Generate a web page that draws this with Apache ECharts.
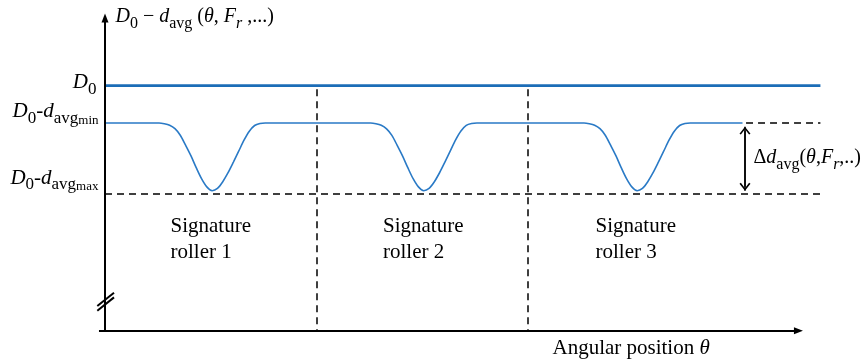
<!DOCTYPE html>
<html><head><meta charset="utf-8">
<script src="https://cdn.jsdelivr.net/npm/echarts@6/dist/echarts.min.js"></script>
<style>html,body{margin:0;padding:0;background:#fff}#c{width:864px;height:364px}</style>
</head><body><div id="c"></div>
<script>
// ---- data (angular position θ in degrees, signal in arbitrary units) ----
const thetaDeg = [0,
  30.5, 33.5, 36.5, 39.5, 42.5, 45.5, 48.5, 51.5, 54.5, 57.5, 60.5,
  63.5, 66.5, 69.5, 72.5, 75.5, 78.5, 81.5, 84.5, 87.5, 90.5,
  150, 153, 156, 159, 162, 165, 168, 171, 174, 177, 180,
  183, 186, 189, 192, 195, 198, 201, 204, 207, 210,
  270.5, 273.5, 276.5, 279.5, 282.5, 285.5, 288.5, 291.5, 294.5, 297.5, 300.5,
  303.5, 306.5, 309.5, 312.5, 315.5, 318.5, 321.5, 324.5, 327.5, 330.5,
  360];
const profileY = [207.7,
  207.7, 207.0, 205.5, 202.0, 195.5, 185.5, 175.0, 163.0, 152.0, 143.8, 140.0,
  142.3, 149.0, 158.0, 168.5, 179.5, 190.5, 199.5, 205.2, 207.2, 207.7,
  207.7, 207.0, 205.4, 201.8, 195.3, 185.3, 174.8, 163.0, 152.0, 143.8, 140.0,
  142.3, 149.0, 158.2, 168.8, 179.8, 190.8, 199.7, 205.3, 207.2, 207.7,
  207.7, 207.0, 205.5, 202.0, 195.5, 185.5, 175.0, 163.0, 152.0, 143.8, 140.0,
  142.3, 149.0, 158.0, 168.5, 179.5, 190.5, 199.5, 205.2, 207.2, 207.7,
  207.7];
const levelD0 = 245.1;
const levelMin = 207.7;
const levelMax = 136.7;
const rollerBounds = [119.5, 238.7];
const rollerLabelX = [36.7, 156.7, 276.7];
const rollerNames = ['Signature\nroller 1', 'Signature\nroller 2', 'Signature\nroller 3'];
const leftLabels = ['{L|D}{t|0}', '{L|D}{t|0}{M|-}{L|d}{t|avg}{tt|min}', '{L|D}{t|0}{M|-}{L|d}{t|avg}{tt|max}'];
const leftLabelY = [247.9, 219.0, 152.4];
const axisTitleY = '{I|D}{s|0}{N| − }{I|d}{s|avg}{N| (}{I|θ}{N|, }{I|F}{si|r}{N| ,...)}';
const axisTitleX = '{P|Angular position }{Q|θ}';
const deltaLabel = '{N|Δ}{I|d}{s|avg}{N|(}{I|θ}{N|,}{I|F}{si|r}{N|,..)}';

// ---- layout / style ----
const FONT = '"Liberation Serif", "DejaVu Serif", serif';
const INK = '#000';
const X_MIN = -6, X_MAX = 404, Y_MIN = -30, Y_MAX = 320;
const arrowX = 361.4;
const chevron = 'path://M0,7 L5.5,0 L11,7 L9.6,7.9 L5.5,2.5 L1.4,7.9 Z';

const rich = {
  I: {fontFamily: FONT, fontStyle: 'italic', fontSize: 20, lineHeight: 30, verticalAlign: 'middle', color: INK},
  N: {fontFamily: FONT, fontSize: 20, lineHeight: 30, verticalAlign: 'middle', color: INK},
  s: {fontFamily: FONT, fontSize: 16, lineHeight: 18, verticalAlign: 'bottom', color: INK},
  si: {fontFamily: FONT, fontStyle: 'italic', fontSize: 16, lineHeight: 18, verticalAlign: 'bottom', color: INK},
  L: {fontFamily: FONT, fontStyle: 'italic', fontSize: 21, lineHeight: 30, verticalAlign: 'middle', color: INK},
  M: {fontFamily: FONT, fontSize: 21, lineHeight: 30, verticalAlign: 'middle', color: INK},
  t: {fontFamily: FONT, fontSize: 17, lineHeight: 17, verticalAlign: 'bottom', color: INK},
  tt: {fontFamily: FONT, fontSize: 13, lineHeight: 6, verticalAlign: 'bottom', color: INK},
  P: {fontFamily: FONT, fontSize: 21, lineHeight: 30, verticalAlign: 'middle', color: INK},
  Q: {fontFamily: FONT, fontStyle: 'italic', fontSize: 21, lineHeight: 30, verticalAlign: 'middle', color: INK}
};

const solid = {color: INK, width: 2, type: 'solid'};
const dashed = {color: INK, width: 1.5, type: [7, 5]};
function seg(p, q, style, s0, s1, size) {
  return [
    {coord: p, symbol: s0 || 'none', symbolSize: size || 8},
    {coord: q, symbol: s1 || 'none', symbolSize: size || 8, lineStyle: style}
  ];
}
function txt(coord, text, pos, dist, extra) {
  return {
    coord: coord, symbol: 'circle', symbolSize: 1, itemStyle: {color: 'rgba(0,0,0,0)'},
    label: Object.assign({show: true, position: pos, distance: dist, formatter: text, rich: rich, color: INK}, extra || {})
  };
}

const markLines = [
  // axes
  seg([0, 0], [0, 312.7], solid, 'none', 'triangle', [7, 9]),
  seg([-3.4, 0], [391.6, 0], solid, 'none', 'triangle', [7, 9]),
  // axis break
  seg([-4.35, 24.7], [5.08, 38], solid),
  seg([-4.35, 20], [5.08, 33.3], solid),
  // dashed guides
  seg([0, levelMax], [X_MAX, levelMax], dashed),
  seg([362, levelMin], [X_MAX, levelMin], dashed),
  seg([rollerBounds[0], 241.4], [rollerBounds[0], 0], dashed),
  seg([rollerBounds[1], 241.4], [rollerBounds[1], 0], dashed),
  // double arrow
  seg([arrowX, 204], [arrowX, 140], {color: INK, width: 1.5, type: 'solid'}),
  seg([arrowX, 200.1], [arrowX, 143.9], {color: INK, width: 1.5, type: 'solid'}, chevron, chevron, [11, 7.9])
];

const markPoints = [
  txt([0, 314.4], axisTitleY, 'right', 10),
  txt([0, leftLabelY[0]], leftLabels[0], 'left', 8),
  txt([0, leftLabelY[1]], leftLabels[1], 'left', 6),
  txt([0, leftLabelY[2]], leftLabels[2], 'left', 6),
  txt([arrowX, 173.2], deltaLabel, 'right', 8),
  txt([252.4, -17.3], axisTitleX, 'right', 0)
].concat(rollerNames.map((n, i) => txt([rollerLabelX[i], 91.3], n, 'right', 0,
  {fontFamily: FONT, fontSize: 21, lineHeight: 26, align: 'left', rich: undefined})));

const chart = echarts.init(document.getElementById('c'), null, {renderer: 'canvas'});
chart.setOption({
  animation: false,
  backgroundColor: '#fff',
  grid: {left: 94.375, right: 43.58, top: 10.7, bottom: 3.3},
  xAxis: {type: 'value', min: X_MIN, max: X_MAX, show: false},
  yAxis: {type: 'value', min: Y_MIN, max: Y_MAX, show: false},
  series: [
    {
      name: 'D0', type: 'line', symbol: 'none', silent: true,
      data: [[0, levelD0], [X_MAX, levelD0]],
      lineStyle: {color: '#1c6db7', width: 2.6}
    },
    {
      name: 'profile', type: 'line', symbol: 'none', silent: true, smooth: 0.3,
      data: thetaDeg.map((t, i) => [t, profileY[i]]),
      lineStyle: {color: '#2a7ac6', width: 1.6}
    },
    {
      name: 'annotations', type: 'line', data: [], silent: true, clip: false,
      markLine: {silent: true, animation: false, label: {show: false}, emphasis: {disabled: true}, data: markLines},
      markPoint: {silent: true, animation: false, emphasis: {disabled: true}, data: markPoints}
    }
  ]
});
</script>
</body></html>
